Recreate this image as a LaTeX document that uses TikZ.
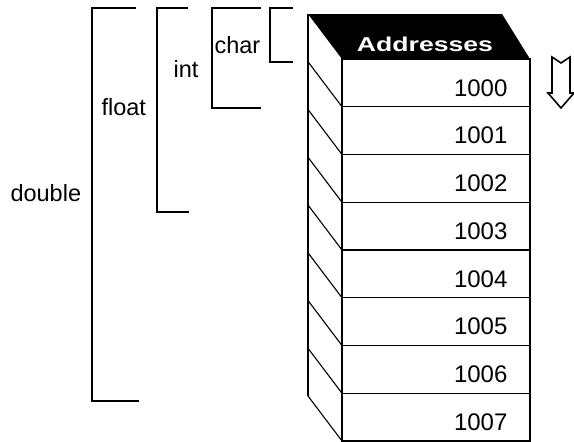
\documentclass[tikz,border=0pt]{standalone}
\usepackage{fontspec}
\setmainfont{Liberation Sans}
\begin{document}
\begin{tikzpicture}[x=1pt,y=-1pt,line width=1.1pt,
  cell/.style={draw,rectangle,minimum width=188pt,minimum height=47.75pt,
    anchor=north west,inner sep=0pt,outer sep=0pt},
  num/.style={font=\fontsize{24}{24}\selectfont,anchor=base east,inner sep=0pt},
  lbl/.style={font=\fontsize{23.5}{23.5}\selectfont,anchor=base west,inner sep=0pt},
  bracket/.style={line width=1.1pt}]
\useasboundingbox (0,0) rectangle (574,442);

% black top face of the stack
\fill[black] (308,14) -- (502,14) -- (530,59) -- (342,59) -- cycle;
\node[font=\bfseries\fontsize{20}{20}\selectfont,text=white,anchor=base,
  inner sep=0pt,xscale=1.33] (title) at (425,51) {Addresses};

% front cells with their addresses
\foreach \i/\a in {0/1000,1/1001,2/1002,3/1003,4/1004,5/1005,6/1006,7/1007}{
  \pgfmathsetmacro{\top}{59+47.75*\i}
  \node[cell] (r\i) at (342,\top) {};
  \node[num] (n\i) at (508,\top+37) {\a};
}

% side face: back edge and one slanted line per cell boundary
\coordinate (backtop) at (308,14);
\coordinate (backbot) at (308,396);
\draw (backtop) -- (backbot);
\foreach \i in {0,...,7}{
  \draw (r\i.south west) -- ++(-34,-45);
}

% type-size brackets
\coordinate (dT) at (92,8);  \coordinate (dB) at (92,401);
\draw[bracket] (136,8) -- (dT) -- (dB) -- (139,401);
\coordinate (fT) at (157,8); \coordinate (fB) at (157,212);
\draw[bracket] (188,8) -- (fT) -- (fB) -- (189,212);
\coordinate (iT) at (212,8); \coordinate (iB) at (212,108);
\draw[bracket] (261,8) -- (iT) -- (iB) -- (261,108);
\coordinate (cT) at (270,8); \coordinate (cB) at (270,62);
\draw[bracket] (293,8) -- (cT) -- (cB) -- (293,62);

\node[lbl] (double) at (10,201) {double};
\node[lbl] (float) at (101,115) {float};
\node[lbl] (int) at (173,77) {int};
\node[lbl] (char) at (214,53) {char};

% hollow arrow showing the direction of increasing addresses
\draw[line width=1.6pt,line join=miter]
  (552,57) -- (561,63) -- (570,57) -- (570,93) -- (574,93) -- (561,108)
  -- (548,93) -- (552,93) -- cycle;
\end{tikzpicture}
\end{document}
